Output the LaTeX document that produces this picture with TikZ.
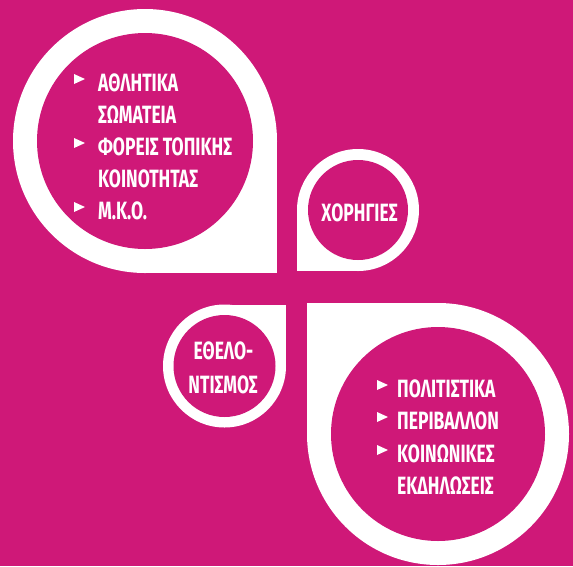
\documentclass[tikz,border=0pt]{standalone}
\usepackage{fontspec}
\newfontfamily\lbl{Fira Sans}[FakeStretch=0.7]
\definecolor{mag}{RGB}{207,24,120}
\begin{document}
\begin{tikzpicture}[x=1pt,y=-1pt,
  txt/.style={inner sep=0pt,text=white,font=\lbl\bfseries\fontsize{25}{30}\selectfont},
  bul/.style={fill=white}]
\useasboundingbox (0,0) rectangle (573,566);
\fill[mag] (0,0) rectangle (573,566);
% top-left drop
\fill[white] (145,141) circle[radius=132];
\fill[white] (145,141) rectangle (277,273);
\fill[mag] (145,141) circle[radius=108];
% top-right drop
\fill[white] (358,210) circle[radius=61];
\fill[white] (297,210) rectangle (358,271);
\fill[mag] (358,210) circle[radius=50];
% bottom-left drop
\fill[white] (224.5,366) circle[radius=61.5];
\fill[white] (224.5,304.5) rectangle (286,366);
\fill[mag] (224.5,366) circle[radius=51];
% bottom-right drop
\fill[white] (438,434) circle[radius=131];
\fill[white] (307,303) rectangle (438,434);
\fill[mag] (438,434) circle[radius=107];
% top-left text
\node[txt,anchor=base west] (a1) at (98,91) {ΑΘΛΗΤΙΚΑ};
\node[txt,anchor=base west] (a2) at (98,123) {ΣΩΜΑΤΕΙΑ};
\node[txt,anchor=base west] (a3) at (98,155) {ΦΟΡΕΙΣ ΤΟΠΙΚΗΣ};
\node[txt,anchor=base west] (a4) at (98,187) {ΚΟΙΝΟΤΗΤΑΣ};
\node[txt,anchor=base west] (a5) at (98,219) {Μ.Κ.Ο.};
\foreach \b in {91,155,219}{\fill[bul] (74,\b-17) -- (85,\b-12) -- (74,\b-7) -- cycle;}
% top-right
\node[txt,anchor=base] (b1) at (359.5,221) {ΧΟΡΗΓΙΕΣ};
% bottom-left
\node[txt,anchor=base] (c1) at (223.5,359) {ΕΘΕΛΟ-};
\node[txt,anchor=base] (c2) at (223,393) {ΝΤΙΣΜΟΣ};
% bottom-right
\node[txt,anchor=base west] (d1) at (397,397) {ΠΟΛΙΤΙΣΤΙΚΑ};
\node[txt,anchor=base west] (d2) at (397,429) {ΠΕΡΙΒΑΛΛΟΝ};
\node[txt,anchor=base west] (d3) at (397,462) {ΚΟΙΝΩΝΙΚΕΣ};
\node[txt,anchor=base west] (d4) at (397,494) {ΕΚΔΗΛΩΣΕΙΣ};
\foreach \b in {397,429,462}{\fill[bul] (377,\b-17) -- (388,\b-12) -- (377,\b-7) -- cycle;}
\end{tikzpicture}
\end{document}
